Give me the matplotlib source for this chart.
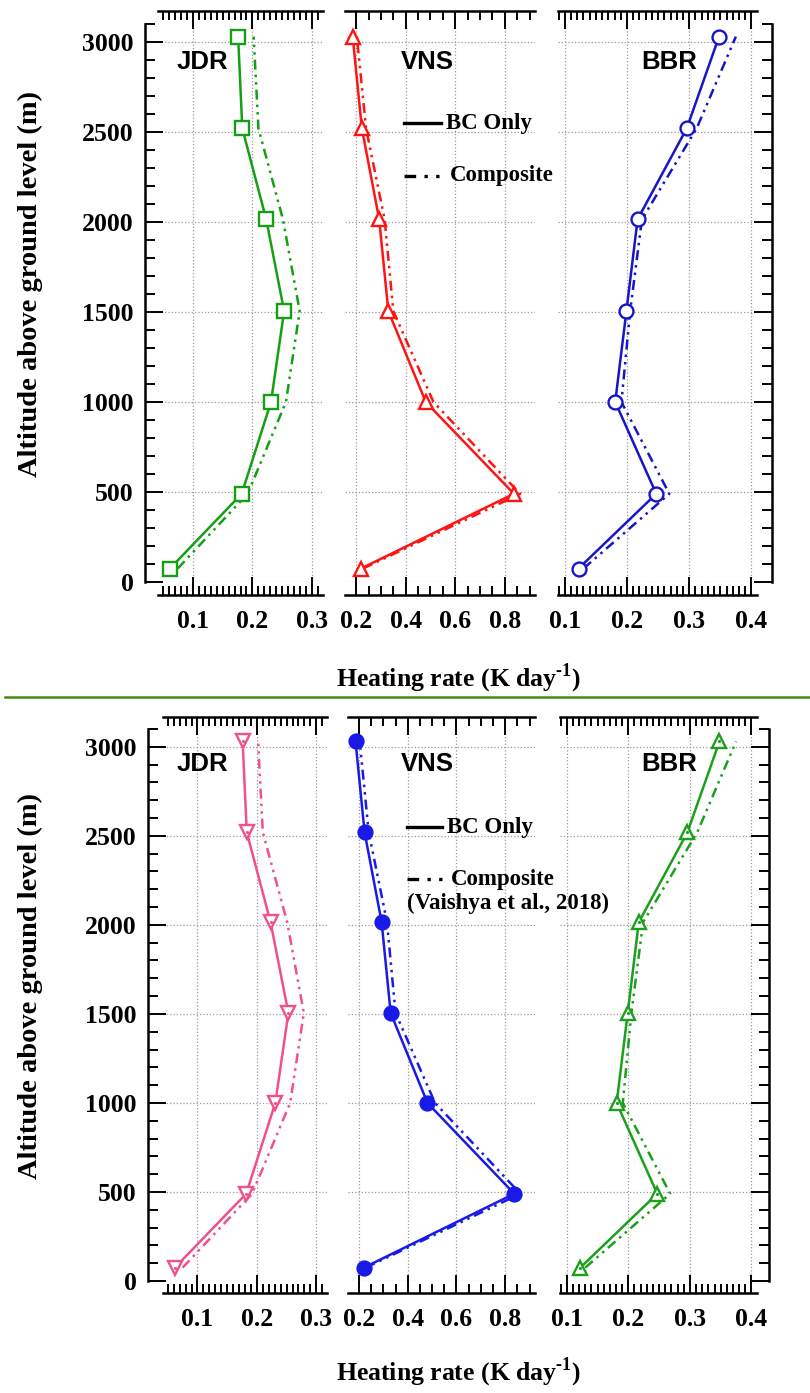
import matplotlib
matplotlib.use("Agg")
import matplotlib.pyplot as plt
from matplotlib.lines import Line2D
from matplotlib.ticker import MultipleLocator, FormatStrFormatter

## Data -- same profiles in both panels
altitude = [75, 490, 1000, 1505, 2015, 2520, 3030]

jdr_bc = [0.062, 0.182, 0.231, 0.253, 0.223, 0.183, 0.176]
jdr_comp = [0.075, 0.192, 0.256, 0.279, 0.251, 0.210, 0.202]
vns_bc = [0.220, 0.837, 0.481, 0.330, 0.293, 0.223, 0.186]
vns_comp = [0.228, 0.862, 0.512, 0.350, 0.315, 0.240, 0.203]
bbr_bc = [0.122, 0.247, 0.181, 0.199, 0.217, 0.296, 0.348]
bbr_comp = [0.130, 0.268, 0.191, 0.205, 0.224, 0.312, 0.375]

sites = ["JDR", "VNS", "BBR"]
xlims = [(0.042, 0.318), (0.155, 0.922), (0.089, 0.409)]
x_major = [0.1, 0.2, 0.1]
x_minor = [0.01, 0.05, 0.01]

W, H = 810, 1393
PT = 0.72  # px -> pt at 100 dpi
serif = "Liberation Serif"
sans = "Liberation Sans"
dashdotdot = (0, (4, 2, 1, 2, 1, 2))

fig = plt.figure(figsize=(W / 100, H / 100), dpi=100)


def fx(x):
    return x / W


def fy(y):
    return 1 - y / H


def draw_panel(ytop, ybot, xspans, yspine_off, rspine_off, xspine_off,
               colors, styles, label_y, legend, xlabel_y):
    bc = [jdr_bc, vns_bc, bbr_bc]
    comp = [jdr_comp, vns_comp, bbr_comp]
    for i, (x0, x1) in enumerate(xspans):
        ax = fig.add_axes([fx(x0), fy(ybot), (x1 - x0) / W, (ybot - ytop) / H])
        ax.set_xlim(*xlims[i])
        ax.set_ylim(0, 3100)
        ax.xaxis.set_major_locator(MultipleLocator(x_major[i]))
        ax.xaxis.set_minor_locator(MultipleLocator(x_minor[i]))
        ax.xaxis.set_major_formatter(FormatStrFormatter("%.1f"))
        ax.yaxis.set_major_locator(MultipleLocator(500))
        ax.yaxis.set_minor_locator(MultipleLocator(100))
        ax.grid(True, which="major", linestyle=":", color="#9a9a9a", linewidth=0.9)
        ax.set_axisbelow(True)

        for s in ("top", "bottom"):
            ax.spines[s].set_position(("outward", xspine_off * PT))
            ax.spines[s].set_linewidth(1.8)
        ax.spines["left"].set_visible(i == 0)
        ax.spines["right"].set_visible(i == 2)
        ax.spines["left"].set_position(("outward", yspine_off * PT))
        ax.spines["right"].set_position(("outward", rspine_off * PT))
        ax.spines["left"].set_linewidth(1.8)
        ax.spines["right"].set_linewidth(1.8)

        ax.tick_params(axis="x", which="both", direction="in", top=True, bottom=True,
                       width=1.4, pad=11)
        ax.tick_params(axis="x", which="major", length=13)
        ax.tick_params(axis="x", which="minor", length=6.5)
        ax.tick_params(axis="y", which="both", direction="in", width=1.4,
                       left=(i == 0), right=(i == 2), labelleft=(i == 0),
                       labelright=False, pad=8)
        ax.tick_params(axis="y", which="major", length=13)
        ax.tick_params(axis="y", which="minor", length=7)
        for lab in ax.get_xticklabels() + ax.get_yticklabels():
            lab.set_fontfamily(serif)
            lab.set_fontweight("bold")
            lab.set_fontsize(18.5)

        c = colors[i]
        mk, mfc = styles[i]
        ax.plot(comp[i], altitude, color=c, lw=1.8, linestyle=dashdotdot, zorder=3)
        ax.plot(bc[i], altitude, color=c, lw=1.8, marker=mk, markersize=10,
                markerfacecolor=mfc if mfc else "white", markeredgecolor=c,
                markeredgewidth=1.7, zorder=4, clip_on=False)
        if mfc is None and mk in ("^", "v"):
            ax.plot(bc[i], altitude, linestyle="none", marker=".", markersize=2.5,
                    color=c, zorder=5, clip_on=False)

    # site names
    for name, xc in zip(sites, [202, 427, 669]):
        fig.text(fx(xc), fy(label_y), name, ha="center", va="center",
                 family=sans, weight="bold", fontsize=18.5)

    # legend
    lx0, lx1, y1, y2 = legend[:4]
    fig.add_artist(Line2D([fx(lx0), fx(lx1)], [fy(y1), fy(y1)], color="black",
                          lw=2.4, transform=fig.transFigure))
    fig.add_artist(Line2D([fx(lx0), fx(lx1)], [fy(y2), fy(y2)], color="black",
                          lw=2.4, linestyle=(0, (3.5, 2.5, 1, 2.5, 1, 2.5)),
                          transform=fig.transFigure))
    fig.text(fx(lx1 + 5), fy(y1), "BC Only", ha="left", va="center",
             family=serif, weight="bold", fontsize=16.5)
    fig.text(fx(lx1 + 9), fy(y2), "Composite", ha="left", va="center",
             family=serif, weight="bold", fontsize=16.5)
    if len(legend) > 4:
        fig.text(fx(lx0), fy(legend[4]), "(Vaishya et al., 2018)", ha="left",
                 va="center", family=serif, weight="bold", fontsize=16.5)

    fig.text(fx(30), fy((ytop + ybot) / 2 - 19), "Altitude above ground level (m)",
             rotation=90, ha="center", va="center", family=serif, weight="bold",
             fontsize=20.5)
    fig.text(fx(458), fy(xlabel_y), "Heating rate (K day$^{\\mathregular{\u20101}}$)",
             ha="center", va="center", family=serif, weight="bold", fontsize=18.5)


# top panel
draw_panel(24, 582, [(158, 323), (345, 535), (558, 757)], 13, 15, 13,
           ["#14a014", "#ff1414", "#1616c8"],
           [("s", None), ("^", "white"), ("o", None)],
           62, (404, 441, 123, 176), 678)

# separator
fig.add_artist(Line2D([fx(5), fx(810)], [fy(697), fy(697)], color="#468a0c",
                      lw=1.8, transform=fig.transFigure))

# bottom panel
draw_panel(729, 1281, [(163, 327), (348, 535), (560, 757)], 15, 12, 12,
           ["#f0508c", "#1a1ae6", "#1aa01a"],
           [("v", None), ("o", "#1a1ae6"), ("^", None)],
           764, (407, 442, 827, 879, 903), 1372)

fig.savefig("out.png", dpi=100)
